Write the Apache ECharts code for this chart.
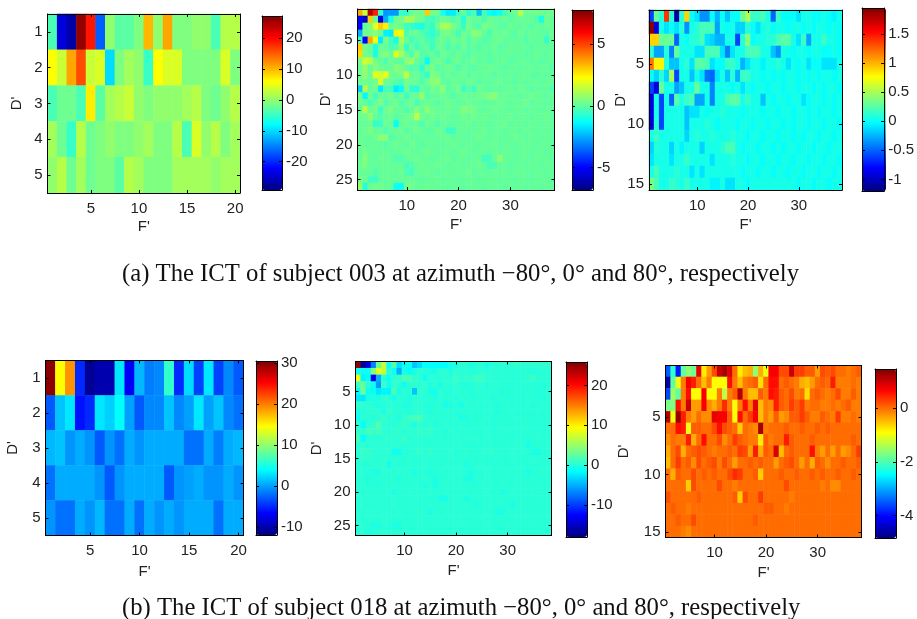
<!DOCTYPE html>
<html><head><meta charset="utf-8">
<style>html,body{margin:0;padding:0;background:#fff}#c{width:917px;height:619px}</style>
<script src="https://cdn.jsdelivr.net/npm/echarts@6/dist/echarts.min.js"></script>
</head><body><div id="c"></div>
<script>
const a1 = [
[-4,-24,-27,26,19,-17,0,-3,-3,-1, 10,0,11,-1,-1,0,0,-4,2,2],
[6,3,11,16,3,4,-10,-1,1,0, -5,6,4,4,-1,-1,-1,-1,4,-1],
[-4,-2,-2,-4,7,-3,1,2,3,0, -1,0,0,0,1,2,-1,-2,0,2],
[1,-2,-5,2,-2,-1,0,-1,-1,0, 1,-1,-1,2,-4,4,0,2,-1,1],
[0,2,-2,1,-2,-1,-1,-3,2,1, -1,-1,-1,1,1,1,1,0,1,1]];
const b1 = [
[30,14.5,19,-5,-11,-10,-10,3,-7,1, -1.5,-1,6,-5,2.5,-4,3,-4,-1,-3],
[-3,1.5,3,-6,-5,3,2,4,0,-3, -1,-1,1.5,-1,0,3,0,1.5,-1,-2],
[1,1.5,-.5,.5,-.5,-3,-.5,-2,.5,-.5, .5,.5,.5,.5,-2,-2,.5,-1.5,.5,1],
[-2,.5,.5,.5,.5,-.5,-3,-.5,.5,.5, .5,.5,-3,-.5,0,.5,-.5,-.5,.5,-.5],
[-.5,-2,-2,.5,-.5,1,-2,-2,.5,-2, .5,-.5,.5,-.5,.5,.5,.5,-2,.5,.5]];
const a2 = [
[3.5,1.5,7,5.5,-.6,-2.8,-2.8,-2.8,-.5,-.8, .2,.3,.2,3,.3,.2,-1,-1.6,-1.6,-.5, .2,-.8,-.3,-2.2,-.3,-1.2,-1.4,-1.2,-.3,0, .2,1.2,.2,.2,.3,.2,.2,.3],
[-5,-6,3,0,-5.5,-2.5,-1,.2,.3,1, 1,.4,.2,-.3,-.4,-.1,.2,.1,-.2,0, -.8,.2,0,.1,-.3,.2,.1,0,.2,-.1, .1,.2,.1,.1,-.1,-1,.2,.1],
[-5,.1,.4,2,3,2.5,.2,.3,.2,-.4, -.6,-.9,-1,-.3,-.6,.3,1,1,.4,.1, -.6,.3,0,-.2,.4,.2,.1,0,-.1,.2, .1,0,.1,-.1,.1,0,.2,.1],
[-2.5,.3,.4,.6,.2,-1.5,-1.6,2.5,2,-.3, .1,.2,-.2,-.5,-.7,-.3,.3,.4,.1,-.4, .2,.1,.6,.5,.1,-.3,.2,.1,.2,0, -.1,.2,0,.1,.1,0,-.1,.2],
[-.4,-5,3.5,2,-1.6,.4,-.5,-1,1,.2, -.4,-.2,.1,-.3,-.5,.1,.2,-.1,.2,.1, .3,-.2,.2,.1,-.2,0,.1,.2,0,.1, 0,.1,-.2,.1,0,.1,-.6,.1],
[3,.3,.1,-.9,.2,.1,-.3,-.2,.6,-.6, .1,-.4,-.1,.1,-.5,.2,.1,-.3,.1,-.2, .2,-.1,.1,-.2,.1,0,.2,-.1,0,.1, .1,0,.1,-.1,.1,0,.1,0],
[2.8,.3,.2,-1,.3,.5,.1,1.8,1,.2, -.3,.6,-.2,0,.1,-.3,.2,.1,-.1,.2, 0,-.2,.1,.1,0,-.1,.1,0,.1,.1, 0,.1,-.1,0,.1,.1,0,.1],
[.4,1.6,1.3,.3,.1,-.2,.2,.1,-.1,.6, .9,.1,-.2,-1.3,.1,.3,.1,-.3,.1,.2, -.1,.1,.2,0,.1,-.1,0,.1,.1,-.1, 0,.1,.1,0,.1,-.1,0,.1],
[.2,.8,.1,.5,.2,.1,.1,.6,.4,.1, -.2,-.1,-.7,.2,.3,-.1,.1,.2,.1,-.2, .1,0,-.1,.1,.1,.2,.1,0,-.1,.1, .1,0,.1,.1,0,.1,.1,-.1],
[.3,.7,.2,1.9,1.6,2,.3,.2,.4,1.4, .1,.2,-.2,-.6,.5,.3,-.1,.2,0,.1, .2,-.1,.1,0,.1,.1,-.1,.1,0,.1, 0,.1,.1,0,-.1,.1,0,.1],
[.2,.3,.1,.3,1.8,.2,.1,-.1,-.3,.3, .2,.1,-.2,.2,.6,.7,.1,-.1,.2,.1, 0,.2,.1,-.1,.1,0,.1,.2,0,.1, -.1,.1,0,.1,.1,0,.1,.1],
[-2,1.2,.1,.3,-1.6,-.3,-.4,-1.6,-1.3,.2, -.6,-.8,.1,-.1,.3,.2,.6,-.1,.1,.3, -.5,-.1,-.4,.2,.1,-.1,.1,0,.1,.1, 0,.2,.1,-.1,.1,0,.1,-.2],
[.3,-1.4,.2,-.4,.2,.1,.3,-.2,.2,-.5, .1,.1,.8,-.2,.1,.1,.2,.1,-.2,.1, .2,.1,.1,.2,.3,.5,.6,.1,.2,.1, .1,0,.1,.2,.1,.1,0,.1],
[.2,.1,-.3,.1,.4,-.2,.1,.3,-.2,.1, .2,-.3,.1,.2,.1,-.1,.1,.2,.1,0, .1,.2,.1,.1,0,.1,.1,.2,.1,0, .1,.1,.2,0,.1,.1,0,.1],
[.1,1.3,.2,.3,-.5,.2,.4,.1,.1,-.2, .1,.5,.1,.6,.2,.1,.1,.2,.1,.1, .5,.4,.3,.1,0,.1,.2,.1,.1,0, .1,.1,0,.1,.1,0,.1,.1],
[.2,.2,.7,.1,-.2,.1,.2,-.1,.1,.2, .3,1.3,.2,.1,.3,.1,.2,.1,0,.1, .2,.1,.3,.1,.2,.1,0,.1,.1,.2, 0,.1,.1,0,.1,.1,.2,0],
[.1,.1,.2,-.6,-.5,.2,.1,-1.3,.1,.2, .1,.1,-.2,.2,.1,-.2,.1,.1,0,.1, .1,.2,0,.1,.1,0,.1,.1,.2,0, .1,.1,0,.1,.1,0,.1,.1],
[.1,.2,.4,.1,.1,-.2,.1,.1,.2,-.1, .1,.2,.1,-.1,.1,.2,.1,-.5,-.5,.1, .1,0,.1,.1,.2,0,.1,.1,0,.1, .1,0,.1,.1,0,.1,.1,0],
[.1,.1,.1,.2,.6,.6,-.2,.1,.1,.2, .1,0,.1,.1,0,.1,.1,.2,0,.1, .1,0,.1,.2,.1,0,.1,.1,0,.1, .2,.1,0,.1,.1,0,.1,.1],
[.2,.1,.1,.1,.1,-.1,.1,.2,.1,0, .2,.1,-.1,.1,.1,.1,0,.1,.2,.1, 0,.1,.1,0,.1,.1,.2,0,.1,.1, 0,.1,.1,.1,0,.1,.1,0],
[.1,.3,.1,.1,.1,.1,0,.1,.1,.2, .1,0,.1,.2,.1,0,.1,.1,0,.1, .2,.1,0,.1,.1,0,.1,.1,.1,.1, 0,.1,.1,0,.1,.1,0,.1],
[.1,.5,.1,0,.2,.1,.1,-.2,-.2,.1, .1,.2,.1,.1,0,.1,.1,.2,0,.1, .1,0,.1,.1,-.4,-.4,.1,.7,.1,.1, 0,.1,.1,0,.1,.1,.1,0],
[.2,.4,.1,.1,.1,.1,.1,.1,.1,-.3, -.2,.1,.2,.1,.1,.2,.1,0,.1,.1, 0,.1,.1,.2,0,-.3,-.3,.1,.1,0, .1,.1,0,.1,.1,0,.1,.1],
[.1,.1,.1,-.2,.1,.1,.1,.1,.2,-.2, -.4,.1,.1,.2,.1,0,.1,.1,0,.1, .1,.2,0,.1,.1,0,.1,.1,.1,0, .1,.1,.1,0,.1,.1,0,.1],
[.3,.2,-.4,-.5,.1,.1,.1,.1,.1,.1, .1,.1,0,.1,.1,.2,0,.1,.1,0, .1,.1,.1,0,.1,.1,.1,0,.1,.1, 0,.1,.1,0,.1,.1,.1,0],
[.7,-.8,.1,.3,.2,.1,.1,-1.2,-1.2,.2, .3,.1,.1,.2,.1,.1,.1,0,.1,.1, 0,.1,.1,.1,0,.1,.1,.1,0,.1, .1,.1,0,.1,.1,0,.1,.1]];
const b2 = [
[25,-17,-14,-7,3,7,-1,2,-3,-1, -1,-4,-3,-1.5,-1.5,-1.5,-1.5,-1.5,-.5,-.5, .3,.2,-.3,.1,.2,-.5,.2,.1,.3,.2, .4,.5,.2,.3,.5,.2,.5,.3],
[-1,-1,-1,4,8,7,.2,-1,-5,-.5, -1.5,-.5,.2,0,-.4,-.5,.2,.1,-.3,.2, .1,.2,-.1,.1,.2,0,.3,.1,.2,.1, 0,.1,.2,.1,-.1,.1,.2,.1],
[9,-2,-1,-13,-5,0,-1,.5,.5,1.5, 1.5,.4,.4,-1,.2,.2,.1,.3,0,1, .2,.6,.4,1,1,.2,.3,.1,.2,.2, .1,0,.1,.3,1,.1,.2,.1],
[1,3,0,-1,-6,1,-1,.5,.3,-1, .2,.4,.1,.6,-.4,.2,-.5,.2,.1,.3, .1,-.2,.1,.3,.2,-.1,.1,.2,.1,-.2, .1,0,.2,.1,0,.1,-.2,.1],
[-1.5,3,-1,-1,-2.5,-2,-2,1.5,-.5,.2, .1,-4,.4,.2,-.5,-.7,.2,.1,-.2,.3, .1,.2,-.1,.2,.1,0,.2,.1,-.1,.1, .1,.2,0,.1,.1,-.1,.1,.2],
[-2.5,-2.5,-.5,-.3,-.5,.4,.2,-.5,.2,.1, -.4,.2,.2,-.1,.1,-.3,.2,.1,.1,-.1, .2,.1,0,.1,.2,.1,-.1,.1,.2,0, .1,.1,-.1,.2,.1,0,.1,.1],
[.6,.3,.2,.1,-.4,-.2,.1,.2,.1,-.3, -.1,.2,.3,.1,-.2,.1,.2,-.7,-.3,.1, -.6,.2,.1,.2,0,.1,.1,-.1,.1,.2, 0,.1,.1,.2,-.1,.1,.2,0],
[-.6,.1,.2,.3,.2,-.3,.6,.2,.1,.3, -.2,.1,.2,.1,-.1,.1,.2,.1,.1,-.2, .1,.1,.2,0,.1,.1,.2,-.1,.1,.1, .2,0,.1,.1,.1,.2,0,.1],
[-1,.3,.1,.1,.3,.8,.1,.2,-.2,.6, 1,1.2,1.5,.2,.1,.1,.2,.1,.1,.2, -.3,-.1,.2,.1,.1,.2,0,.1,.1,.1, 0,.2,.1,.1,0,.1,.2,.1],
[.3,-1.5,.2,.6,1.8,.3,.2,.1,.4,.8, .2,-.3,.5,.1,.2,-.1,.1,.2,.1,.1, .2,0,.1,.1,.2,.1,0,.1,.2,.1, .1,0,.2,.1,.1,.1,0,.1],
[.6,.2,1.4,.8,1.3,.2,.1,.3,.6,-.2, .5,.2,.6,.4,.8,.1,.2,-.1,.2,.1, .1,.2,.1,.1,0,.2,.1,.1,.1,.2, 0,.1,.1,.2,.1,0,.1,.1],
[1.5,-1.6,.2,.3,.1,.2,.6,.2,.3,.8, .1,.2,.3,.1,.2,.1,.2,.1,.1,.2, .1,.3,.3,.2,.1,.2,.1,.1,.2,.1, .1,.2,.1,0,.1,.2,.1,.1],
[.4,.2,.1,.2,.2,.3,.1,.2,.3,.1, .2,.1,.2,.1,.1,.2,.1,.2,.1,.1, .2,.1,0,.1,.2,.1,.1,.1,0,.2, .1,.1,.2,-.5,.1,.1,.1,.2],
[.1,.8,.6,.3,.2,.2,.4,-.9,-.8,.1, .1,.2,.5,.1,.7,.1,.2,.1,.2,-.1, .1,.2,.1,.1,.2,.3,.5,.1,.2,.1, .4,.1,.2,.1,-.4,-.5,.1,.1],
[.1,.5,.4,.3,.1,.2,.1,.1,.2,.1, .2,.1,.1,.2,.1,.2,.1,.1,.2,.1, .1,.2,.1,.1,.2,.1,.1,.2,.1,.1, .2,.1,.1,.1,.2,.1,.1,.1],
[.2,.1,.1,.2,.3,.5,-.8,.2,.1,.1, .2,.1,.1,.2,.1,.1,.1,.2,.1,.1, .2,-.4,.1,.1,.2,.1,.1,.1,.2,.1, .1,.1,.2,.1,.1,.1,.2,.1],
[.1,.2,.1,-.3,-.4,.2,.1,.1,.2,.1, .1,-.3,.1,.1,-.2,.1,.2,.1,.1,.1, .2,.1,-.3,.1,.1,.2,.1,.1,.1,.2, .1,.1,.1,-.3,.1,.1,.2,.1],
[.2,.1,-.3,.1,.1,.2,.1,.1,-.2,.2, .1,.1,.1,.2,.1,-.3,.1,.1,.2,.1, .1,-.3,-.3,.1,.1,.2,.1,.1,.1,.2, .1,.1,.1,.1,.2,.1,.1,.1],
[.1,.2,.1,.1,-.1,.1,.1,.2,.1,.1, .1,.2,.1,-.3,.1,-.5,.1,.2,.1,.1, .2,.1,.1,.1,.2,.1,.1,.1,.2,.1, .1,.1,.2,.1,.1,.1,.2,.1],
[.1,.1,.2,.1,.1,.1,.2,-.3,.1,.1, .2,.1,.1,.1,.2,.1,.1,.2,.1,.1, .1,.2,.1,.1,.1,.2,.1,.1,-.3,.1, .2,.1,.1,.1,.2,.1,.1,.1],
[.2,.1,.1,.2,.1,.1,.1,.2,.1,.1, .1,.2,.1,.1,.1,.1,-.5,-.5,.1,.2, .1,-.3,.1,.1,.2,.1,.1,.1,.2,.1, .1,.1,.2,.1,.1,.1,.2,.1],
[.1,.2,.1,.1,.3,.1,.1,.2,.1,.1, .2,.1,.1,.1,.2,.1,.1,.1,.2,.1, .1,.2,.1,-.3,.1,.1,.2,.1,.1,.1, -.3,.1,.1,.2,.1,.1,.1,.2],
[.1,.1,.2,.3,.1,.1,.2,.1,.2,.1, .1,.1,.2,.1,-.3,.1,.1,.2,.1,.1, .1,.2,.1,.1,.1,.2,.1,-.4,-.4,.1, .1,.1,.2,.1,.1,.1,.2,.1],
[.1,.1,.1,.2,.1,.3,.1,.1,.2,.1, .1,.1,.2,.1,.1,.1,.2,.1,.1,.1, .2,.1,.1,.1,.2,.1,.1,.1,.2,.1, .1,.1,.1,.2,.1,.1,.1,.1],
[.2,.1,.1,-.3,-.3,.1,.1,-.4,-.4,.2, .1,.1,.2,.1,.1,.1,.2,.1,.1,.1, .1,.2,.1,.1,.1,.2,.1,.1,.1,.2, .1,.1,.1,.1,.2,.1,.1,.1],
[.1,.2,-.3,.1,.1,.2,.1,.1,.1,.2, .1,.1,.1,.2,.1,.1,.1,.2,.1,.1, .1,.2,.1,.1,.1,.1,.2,.1,.1,.1, .2,.1,.1,.1,.1,.2,.1,.1]];
const a3 = [
[-.6,.3,.1,1.4,.1,-1.1,.1,.9,0,-.1, -.35,-.35,0,-.25,0,-.2,0,0,.3,.5, .15,.15,.2,.05,-.5,.15,0,0,0,-.1, .05,.05,0,0,.05,0,-.05,.05],
[1.9,-.9,.05,-.1,0,-.1,.1,-.35,.05,.1, .2,.2,.2,-.3,.05,0,.05,-.15,-.15,.1, 0,-.1,.05,.1,0,.05,.05,0,.05,.05, 0,.05,0,.05,.05,0,.05,0],
[.9,.9,.3,.3,.3,-.5,.05,0,.1,.1, .2,-.1,-.15,-.25,-.25,.05,.05,-.6,.1,.4, 0,.05,.05,.1,.1,.2,.25,.25,.05,-.1, .15,-.3,.05,.05,.15,.05,.05,0],
[.1,-.3,-.3,.1,-.4,.3,.05,.05,.05,-.1, -.1,.2,.2,.2,-.1,-.4,-.1,.05,.05,.2, .2,.2,.05,.05,-.2,-.35,.05,.05,0,.05, .05,0,.05,.05,0,0,.05,0],
[1.2,.8,.8,.1,-.2,-.2,.05,.1,-.1,.25, .25,.2,-.1,0,0,.15,.15,.05,-.25,-.1, .05,.05,-.05,.05,.05,.1,.05,-.1,.05,0, .05,-.1,0,0,-.1,-.1,-.1,.05],
[0,-.15,.1,-.15,.5,-.6,.05,.05,-.2,.05, -.1,-.45,-.5,-.1,.05,-.2,.1,-.25,.15,.15, .05,.05,0,.05,0,.05,0,.05,.05,0, .05,0,.05,0,.05,.05,0,.05],
[-.6,-.9,.3,.05,.05,-.3,-.2,.05,.05,.3, .05,.05,-.4,.05,.05,.05,0,.05,-.1,.05, 0,.05,.05,0,.05,.05,0,.05,.05,0, .05,.05,0,.05,0,.05,.05,0],
[-.9,.05,-.6,.05,-.5,.25,.05,.15,.2,-.3, -.3,.05,-.4,.05,.05,.2,.25,.25,.05,.15, .05,.05,-.2,.05,0,.05,.05,0,.05,.05, -.1,0,.05,.05,0,.05,0,.05],
[-.9,.05,-.6,.05,.05,.05,.05,-.2,-.1,-.1, .05,0,.05,.05,.1,.05,.05,.05,0,.05, .05,.05,0,.05,.05,0,.05,.05,0,.05, .05,0,.05,0,.05,.05,0,.05],
[-.9,.1,-.6,.05,.05,.05,.05,-.2,.05,.05, .05,.1,.05,0,.05,.05,.05,0,.05,.05, 0,.05,.05,0,.05,.05,0,.05,0,.05, .05,0,.05,.05,0,.05,.05,0],
[.05,.15,.05,.05,.05,.05,.05,-.15,.05,.1, .05,.05,.1,.05,.05,.05,.1,.05,.05,0, .05,.05,0,.05,.05,0,.05,.05,0,.05, 0,.05,.05,0,.05,.05,0,.05],
[-.15,.1,.05,.05,-.15,.05,-.05,.05,.05,.05, -.15,.05,.05,.05,.1,.2,.2,.05,0,.05, .05,0,.05,.05,0,.05,0,.05,.05,0, .05,.05,0,.05,.05,0,.05,.05],
[-.1,.05,.05,.05,-.1,.05,.05,.15,.05,.05, .05,.05,-.1,.05,.05,.05,.1,.05,.05,0, .05,.05,0,.05,.05,0,.05,.05,0,.05, .05,0,.05,.05,0,.05,.05,0],
[.05,.2,.05,.05,.05,.1,.05,.05,-.1,.05, -.1,.05,.05,.05,.05,.05,.05,.05,0,.05, .05,0,.05,.05,0,.05,.05,0,.05,.05, 0,.05,.05,0,.05,.05,0,.05],
[.35,.2,.05,.05,.15,.1,.05,.15,.05,.05, .05,.05,-.05,-.05,.05,-.1,-.1,.05,.05,0, .05,.05,.05,.05,.05,.05,.05,.05,.05,0, .05,.05,0,.05,.05,0,.05,.05]];
const b3 = [
[-3.5,-2.2,-3.9,-1.9,-1.6,-1.8,.8,-.8,-.3,.2, 1,1.2,.9,0,-.8,-.5,-.4,-1.6,-.4,-1, .7,.7,.2,.2,1,.3,.3,.1,.1,-.3, .2,.1,.2,0,0,-.1,0,.1],
[-4.6,-1.9,-1,-.1,.7,.5,0,-.5,-.1,-.9, -.9,-.9,.6,-.1,-.5,-.1,0,.1,-.7,0, .6,.6,0,.1,0,-.1,-.4,-.5,-.3,0, .1,0,.5,-.1,-.1,-.1,0,-.1],
[-3.6,-1.5,-1.9,-.1,.6,-.9,-.9,.7,-.9,-.9, -.1,-1.3,-.1,.1,1.1,-.1,-.5,-.5,.1,-.1, .6,.5,.1,0,.2,-.1,0,-.7,0,.1, 0,-.1,0,.2,-.1,-.1,.1,-.1],
[-1.7,-1.7,.6,-.1,1,-.3,-.3,.7,-.2,-.4, -.1,.4,-.1,-.95,-.1,.6,-.1,.8,-.5,-.1, -.2,.5,.1,0,.3,.1,.3,-.1,0,0, -.1,-.1,0,-.1,0,.1,-.1,-.1],
[1.1,-1,1.3,.5,-.1,-.3,0,-.2,-.2,.8, .7,.7,.1,-.9,.6,0,.3,.7,-.5,-.1, -.3,.1,-.3,-.2,.1,.1,.3,.1,-.1,-.1, .1,0,-.1,.3,-.1,-.1,0,-.1],
[0,0,.6,.5,-1,.1,.1,0,0,.2, .6,.2,.1,0,-.6,0,-.1,-.2,1.2,-.1, 0,0,0,.1,0,0,.1,0,0,.1, 0,.1,0,0,0,0,0,0],
[-.2,0,-.1,-.1,.5,-.4,0,.6,0,0, .2,-.2,0,.3,.1,0,-.1,-.1,-.8,.1, -.1,0,0,.5,.1,0,0,0,.1,0, 0,0,0,0,0,0,.1,0],
[-.4,0,.2,-.4,0,.1,.2,.1,0,-.1, 0,0,.1,0,.3,.2,-.3,.5,-.4,.1, 0,.9,-.5,0,.1,0,0,0,.6,-.1, -.3,0,-.3,0,-.3,-.2,0,.3],
[-.5,0,.3,0,.1,-.2,.2,0,.1,.2, -.1,.2,0,-.3,0,0,.1,0,.1,0, 0,-.3,0,.1,.2,0,-.3,0,-.4,.1, 0,-.2,0,0,.1,0,0,.1],
[0,-.4,.1,0,0,.2,0,.1,0,.1, 0,0,.2,.4,.3,0,0,.1,-.6,0, 0,0,.1,0,0,.1,0,0,.1,0, .1,0,0,.1,0,0,.1,0],
[0,0,0,0,-.6,.2,0,0,0,0, .2,0,0,-.1,0,0,0,0,0,0, 0,0,0,.2,0,0,0,0,0,0, -.1,0,-.2,-.2,0,0,0,0],
[.2,0,0,0,0,0,.1,0,0,0, 0,0,0,.1,-.6,.2,0,0,.3,0, 0,0,0,0,-.1,0,0,0,0,0, 0,0,0,0,0,0,0,0],
[0,.1,0,0,-.1,0,0,0,0,0, 0,0,0,0,0,0,0,0,0,.1, .1,0,0,-.1,0,0,0,0,0,0, 0,0,0,0,0,0,0,0],
[0,0,.1,0,0,.2,0,0,0,0, 0,0,0,0,0,0,0,.1,0,0, 0,0,0,0,0,0,0,0,0,0, 0,0,0,0,0,0,0,0],
[0,0,0,-.1,-.2,0,0,0,0,0, 0,0,0,0,0,0,0,0,0,0, 0,0,0,0,0,0,0,0,0,0, 0,0,0,0,0,0,0,0]];

const xTicks5 = [5,10,15,20];
const xTicks10 = [10,20,30];
const yTicks5 = [1,2,3,4,5];
const yTicks26 = [5,10,15,20,25];
const yTicks15 = [5,10,15];
const barTicks = [
  [-20,-10,0,10,20],
  [-5,0,5],
  [-1,-0.5,0,0.5,1,1.5],
  [-10,0,10,20,30],
  [-10,0,10,20],
  [-4,-2,0]
];
const barRange = [[-29.2,27.2],[-6.8,7.75],[-1.2,1.95],[-12,30.5],[-18.1,25.9],[-4.83,1.45]];
const captionA = '(a) The ICT of subject 003 at azimuth \u221280\u00b0, 0\u00b0 and 80\u00b0, respectively';
const captionB = '(b) The ICT of subject 018 at azimuth \u221280\u00b0, 0\u00b0 and 80\u00b0, respectively';
const jet = ['#00007f','#0000ff','#007fff','#00ffff','#7fff7f','#ffff00','#ff7f00','#ff0000','#7f0000'];

const panels = [
 {m:a1,xt:xTicks5, yt:yTicks5, box:[47.5,14,192.5,179], bar:[262,16,20,174],yn:23,xn:26},
 {m:a2,xt:xTicks10,yt:yTicks26,box:[357.5,9,197,181],   bar:[572,10,21,180],yn:24,xn:27},
 {m:a3,xt:xTicks10,yt:yTicks15,box:[649,10,193,180],    bar:[862,8,24,183], yn:21,xn:27},
 {m:b1,xt:xTicks5, yt:yTicks5, box:[45.5,360.5,198,175],bar:[256,361,21,174],yn:25,xn:29},
 {m:b2,xt:xTicks10,yt:yTicks26,box:[355.5,361.5,196,174],bar:[566,362,21,175],yn:31,xn:28},
 {m:b3,xt:xTicks10,yt:yTicks15,box:[665.5,365.5,196,172],bar:[875,369,21,169],yn:34,xn:28}
];
const font = {fontFamily:'Liberation Sans',fontSize:15,color:'#222'};
const line = {show:true,onZero:false,lineStyle:{color:'#000',width:1}};
const grid=[],xAxis=[],yAxis=[],series=[],visualMap=[];
panels.forEach((p,i)=>{
  const cols=p.m[0].length, rows=p.m.length;
  const xc=Array.from({length:cols},(_,k)=>String(k+1));
  const yc=Array.from({length:rows},(_,k)=>String(k+1));
  const xf=(k,v)=>p.xt.includes(+v), yf=(k,v)=>p.yt.includes(+v);
  const g=grid.length;
  grid.push({left:p.box[0],top:p.box[1],width:p.box[2],height:p.box[3],containLabel:false});
  const xi=xAxis.length, yi=yAxis.length;
  const tick=(f)=>({show:true,inside:true,length:3,interval:f,alignWithLabel:true,lineStyle:{color:'#000'}});
  xAxis.push({type:'category',gridIndex:g,data:xc,position:'bottom',axisLine:line,z:5,splitLine:{show:false},
    axisTick:tick(xf),axisLabel:{...font,interval:xf,margin:8,hideOverlap:false},
    name:"F'",nameLocation:'middle',nameGap:p.xn,nameMoveOverlap:false,nameTextStyle:font});
  xAxis.push({type:'category',gridIndex:g,data:xc,position:'top',axisLine:line,z:5,splitLine:{show:false},
    axisTick:tick(xf),axisLabel:{show:false}});
  yAxis.push({type:'category',gridIndex:g,data:yc,inverse:true,position:'left',axisLine:line,z:5,splitLine:{show:false},
    axisTick:tick(yf),axisLabel:{...font,interval:yf,margin:5},
    name:"D'",nameLocation:'middle',nameGap:p.yn,nameRotate:90,nameMoveOverlap:false,nameTextStyle:font});
  yAxis.push({type:'category',gridIndex:g,data:yc,inverse:true,position:'right',axisLine:line,z:5,splitLine:{show:false},
    axisTick:tick(yf),axisLabel:{show:false}});
  const data=[];
  p.m.forEach((r,y)=>r.forEach((v,x)=>data.push([x,y,v])));
  const si=series.length;
  series.push({type:'heatmap',xAxisIndex:xi,yAxisIndex:yi,data,progressive:0,silent:true,emphasis:{disabled:true},z:2});
  const [lo,hi]=barRange[i];
  visualMap.push({type:'continuous',seriesIndex:si,dimension:2,min:lo,max:hi,calculable:false,hoverLink:false,
    left:p.bar[0],top:p.bar[1],itemWidth:p.bar[2],itemHeight:p.bar[3],padding:0,text:null,showLabel:false,
    inRange:{color:jet},z:1});
  // colour bar frame and tick labels
  const cg=grid.length;
  grid.push({left:p.bar[0],top:p.bar[1],width:p.bar[2],height:p.bar[3],containLabel:false,z:6});
  const hide={show:false};
  const bl={show:true,onZero:false,lineStyle:{color:'#000',width:1}};
  xAxis.push({type:'value',gridIndex:cg,min:0,max:1,position:'bottom',axisLine:bl,axisTick:hide,axisLabel:hide,splitLine:hide,z:6});
  xAxis.push({type:'value',gridIndex:cg,min:0,max:1,position:'top',axisLine:bl,axisTick:hide,axisLabel:hide,splitLine:hide,z:6});
  yAxis.push({type:'value',gridIndex:cg,min:lo,max:hi,position:'right',axisLine:bl,splitLine:hide,z:6,
    axisTick:{show:true,inside:true,length:3,customValues:barTicks[i],lineStyle:{color:'#000'}},
    axisLabel:{...font,customValues:barTicks[i],margin:4,showMinLabel:true,showMaxLabel:true,formatter:v=>String(v)}});
  yAxis.push({type:'value',gridIndex:cg,min:lo,max:hi,position:'left',axisLine:bl,splitLine:hide,z:6,
    axisTick:{show:true,inside:true,length:3,customValues:barTicks[i],lineStyle:{color:'#000'}},axisLabel:hide});
});
const cap={fontFamily:'Liberation Serif',fontSize:24.7,fill:'#111'};
const chart=echarts.init(document.getElementById('c'),null,{renderer:'canvas',width:917,height:619});
chart.setOption({
  animation:false,backgroundColor:'#fff',tooltip:{show:false},
  grid,xAxis,yAxis,series,visualMap,
  graphic:[
   {type:'text',left:122,top:262,z:10,style:{...cap,text:captionA}},
   {type:'text',left:122,top:596,z:10,style:{...cap,text:captionB}}
  ]
});
</script></body></html>
